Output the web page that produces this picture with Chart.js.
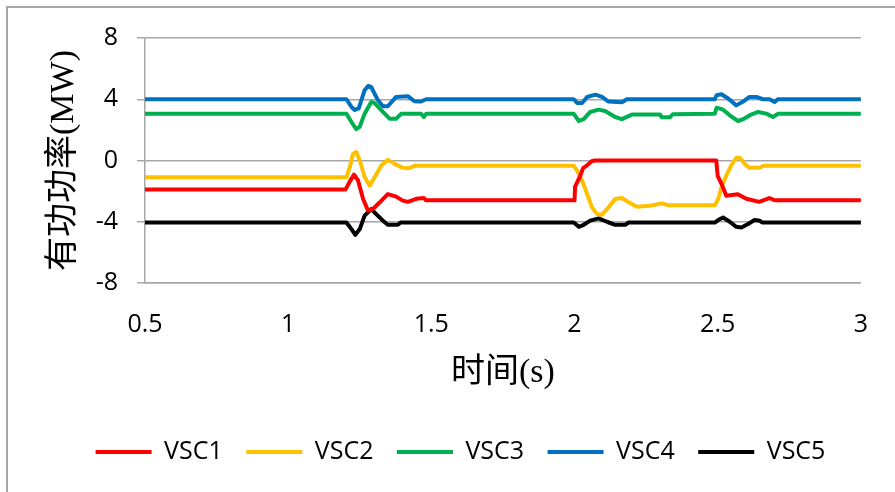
<!DOCTYPE html>
<html>
<head>
<meta charset="utf-8">
<script src="https://cdn.jsdelivr.net/npm/chart.js@4/dist/chart.umd.min.js"></script>
<style>
  html, body { margin: 0; padding: 0; background: #ffffff; }
  canvas { display: block; }
</style>
</head>
<body>
<canvas id="c" width="895" height="492"></canvas>
<script>
// Active power of the five converter stations (MW) against time (s)
const seriesNames = ['VSC1', 'VSC2', 'VSC3', 'VSC4', 'VSC5'];
const seriesColors = ['#ff0000', '#ffc000', '#00b050', '#0070c0', '#000000'];
const xTicks = [0.5, 1, 1.5, 2, 2.5, 3];
const yTicks = [-8, -4, 0, 4, 8];

const vsc1Time = [0.5, 1.2, 1.2175, 1.23, 1.244, 1.2615, 1.279, 1.296, 1.32, 1.348, 1.377, 1.40, 1.418, 1.447, 1.4736, 1.4816,
  2.0, 2.002, 2.01, 2.02, 2.03, 2.045, 2.06, 2.07, 2.495, 2.5, 2.515, 2.53, 2.57, 2.6, 2.645, 2.68, 2.7, 3.0];
const vsc1Power = [-1.9, -1.9, -1.3, -0.92, -1.3, -2.5, -3.28, -3.17, -2.73, -2.19, -2.36, -2.62, -2.7, -2.5, -2.45, -2.6,
  -2.6, -1.7, -1.4, -1.0, -0.5, -0.3, -0.05, 0, 0, -1.0, -1.6, -2.3, -2.2, -2.5, -2.7, -2.45, -2.6, -2.6];

const vsc2Time = [0.5, 1.2035, 1.215, 1.2267, 1.238, 1.25, 1.2674, 1.285, 1.302, 1.325, 1.348, 1.372, 1.40, 1.424, 1.441,
  1.9975, 2.009, 2.0265, 2.044, 2.061, 2.0786, 2.096, 2.119, 2.142, 2.1655, 2.189, 2.218, 2.264, 2.305, 2.328, 2.49,
  2.5017, 2.513, 2.53, 2.547, 2.565, 2.577, 2.594, 2.611, 2.6465, 2.658, 3.0];
const vsc2Power = [-1.1, -1.1, -0.44, 0.44, 0.55, 0, -1.09, -1.64, -1.09, -0.33, 0.04, -0.22, -0.48, -0.5, -0.35,
  -0.35, -0.66, -1.31, -2.19, -3.06, -3.5, -3.54, -3.06, -2.51, -2.45, -2.73, -3.02, -2.95, -2.8, -2.92, -2.92,
  -2.51, -1.75, -0.98, -0.33, 0.18, 0.18, -0.22, -0.48, -0.48, -0.35, -0.35];

const vsc3Time = [0.5, 1.2035, 1.221, 1.238, 1.25, 1.267, 1.29, 1.302, 1.331, 1.354, 1.377, 1.395, 1.464, 1.4736, 1.4816,
  1.9975, 2.015, 2.032, 2.055, 2.084, 2.107, 2.142, 2.1655, 2.2, 2.2987, 2.305, 2.333, 2.343,
  2.49, 2.496, 2.519, 2.542, 2.571, 2.589, 2.617, 2.641, 2.67, 2.693, 2.71, 3.0];
const vsc3Power = [3.05, 3.05, 2.51, 2.05, 2.2, 3.06, 3.82, 3.75, 3.17, 2.73, 2.73, 3.05, 3.05, 2.84, 3.05,
  3.05, 2.58, 2.7, 3.17, 3.32, 3.23, 2.84, 2.7, 3.0, 3.0, 2.82, 2.82, 3.02,
  3.05, 3.45, 3.32, 2.95, 2.58, 2.7, 3.0, 3.17, 3.06, 2.84, 3.05, 3.05];

const vsc4Time = [0.5, 1.2035, 1.221, 1.2326, 1.2465, 1.267, 1.279, 1.29, 1.3136, 1.331, 1.348, 1.377, 1.418, 1.441, 1.464, 1.4816,
  1.9975, 2.009, 2.0265, 2.044, 2.073, 2.096, 2.119, 2.1655, 2.183,
  2.49, 2.496, 2.513, 2.5366, 2.565, 2.589, 2.611, 2.635, 2.658, 2.681, 2.699, 2.71, 3.0];
const vsc4Power = [4.0, 4.0, 3.5, 3.3, 3.4, 4.59, 4.87, 4.8, 3.93, 3.54, 3.54, 4.15, 4.2, 3.87, 3.85, 4.0,
  4.0, 3.76, 3.76, 4.15, 4.3, 4.15, 3.85, 3.8, 4.0,
  4.0, 4.26, 4.33, 4.05, 3.6, 3.85, 4.15, 4.15, 4.0, 4.0, 3.82, 4.0, 4.0];

const vsc5Time = [0.5, 1.2035, 1.221, 1.2346, 1.25, 1.267, 1.29, 1.3075, 1.331, 1.348, 1.383, 1.3925,
  1.9975, 2.015, 2.032, 2.055, 2.084, 2.113, 2.142, 2.177, 2.189,
  2.49, 2.5017, 2.519, 2.542, 2.565, 2.583, 2.606, 2.629, 2.6465, 2.655, 3.0];
const vsc5Power = [-4.05, -4.05, -4.48, -4.85, -4.48, -3.6, -3.17, -3.5, -3.93, -4.2, -4.2, -4.05,
  -4.05, -4.33, -4.2, -3.93, -3.78, -4.0, -4.2, -4.2, -4.05,
  -4.05, -3.89, -3.72, -4.0, -4.33, -4.37, -4.15, -3.89, -3.93, -4.05, -4.05];

const seriesTime = [vsc1Time, vsc2Time, vsc3Time, vsc4Time, vsc5Time];
const seriesPower = [vsc1Power, vsc2Power, vsc3Power, vsc4Power, vsc5Power];

const GRID = '#a6a6a6';
const TICK_FONT = { family: "'Open Sans', 'Liberation Sans', sans-serif", size: 25 };
const TITLE_FONT = { family: "'Liberation Serif', 'Noto Sans CJK SC', serif", size: 34 };

// Outer frame of the chart object
const framePlugin = {
  id: 'frame',
  beforeDraw(chart) {
    const ctx = chart.ctx;
    ctx.save();
    ctx.fillStyle = '#ffffff';
    ctx.fillRect(0, 0, chart.width, chart.height);
    ctx.strokeStyle = GRID;
    ctx.lineWidth = 2;
    ctx.beginPath();
    ctx.moveTo(7, chart.height);
    ctx.lineTo(7, 7);
    ctx.lineTo(chart.width, 7);
    ctx.stroke();
    ctx.restore();
  }
};

function build() {
  const datasets = seriesNames.map((name, i) => ({
    label: name,
    data: seriesTime[i].map((t, k) => ({ x: t, y: seriesPower[i][k] })),
    borderColor: seriesColors[i],
    backgroundColor: seriesColors[i],
    borderWidth: 4,
    pointRadius: 0,
    tension: 0,
    borderJoinStyle: 'round',
    borderCapStyle: 'round',
    fill: false
  }));

  new Chart(document.getElementById('c'), {
    type: 'line',
    data: { datasets },
    plugins: [framePlugin],
    options: {
      responsive: false,
      animation: false,
      devicePixelRatio: 1,
      layout: { padding: { left: 52, right: 26, top: 38, bottom: 17.5 } },
      scales: {
        x: {
          type: 'linear',
          min: 0.5,
          max: 3,
          afterBuildTicks(scale) { scale.ticks = xTicks.map(v => ({ value: v })); },
          afterFit(scale) { scale.height = 133; },
          ticks: {
            color: '#000000',
            font: TICK_FONT,
            padding: 27,
            maxRotation: 0,
            callback: v => String(v)
          },
          grid: { display: false, drawTicks: false },
          border: { display: true, color: GRID, width: 1.5 },
          title: {
            display: true,
            text: '时间(s)',
            color: '#000000',
            font: TITLE_FONT,
            padding: { top: 0, bottom: 22.6 }
          }
        },
        y: {
          type: 'linear',
          min: -8,
          max: 8,
          afterBuildTicks(scale) { scale.ticks = yTicks.map(v => ({ value: v })); },
          afterFit(scale) { scale.width = 93; },
          ticks: {
            color: '#000000',
            font: TICK_FONT,
            padding: 19,
            callback: v => String(v)
          },
          grid: { color: GRID, lineWidth: 1.5, tickLength: 8, drawTicks: true },
          border: { display: true, color: GRID, width: 1.5 },
          title: {
            display: true,
            text: '有功功率(MW)',
            color: '#000000',
            font: TITLE_FONT,
            padding: { top: -8.4, bottom: 0 }
          }
        }
      },
      plugins: {
        tooltip: { enabled: false },
        legend: {
          position: 'bottom',
          labels: {
            color: '#000000',
            font: TICK_FONT,
            boxWidth: 56,
            boxHeight: 4,
            padding: 23.5,
            generateLabels(chart) {
              return chart.data.datasets.map((ds, i) => ({
                text: ds.label,
                fillStyle: ds.borderColor,
                strokeStyle: ds.borderColor,
                lineWidth: 0,
                hidden: false,
                datasetIndex: i,
                fontColor: '#000000'
              }));
            }
          }
        }
      }
    }
  });
}

const fontLoads = [
  "25px 'Open Sans'",
  "34px 'Liberation Serif'",
  "34px 'Noto Sans CJK SC'"
].map(f => document.fonts.load(f, '有功率时间VSC0123456789'));
Promise.all(fontLoads).then(build, build);
</script>
</body>
</html>
